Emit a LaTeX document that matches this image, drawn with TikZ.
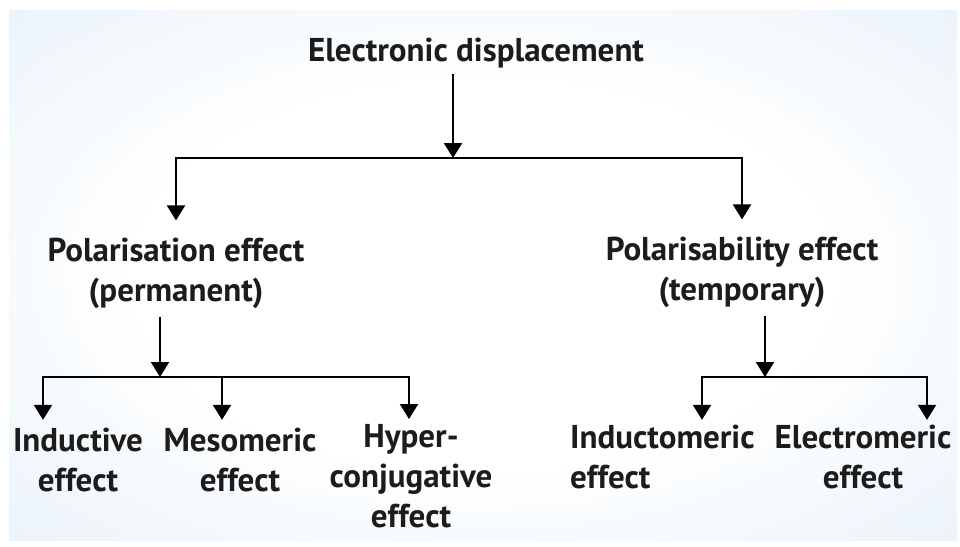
\documentclass[tikz,border=0pt]{standalone}
\usepackage{fontspec}
\setmainfont{PT Sans}
\usepackage{tikz}
\usetikzlibrary{arrows.meta, positioning}
\definecolor{bgBlue}{RGB}{205,227,243}
\definecolor{txtDark}{RGB}{28,28,28}
\pgfdeclareradialshading{bgGlow}{\pgfpoint{0bp}{0bp}}{color(0bp)=(white); color(18bp)=(white); color(62bp)=(bgBlue)}
\tikzstyle{effLabel} = [font=\bfseries\fontsize{33}{40}\selectfont, text=txtDark, align=center, inner sep=4pt]
\tikzstyle{effArrow} = [-{Triangle[width=18pt,length=15pt]}, line width=2.2pt]

\begin{document}
\begin{tikzpicture}[x=1pt, y=-1pt]
        % Background
        \useasboundingbox (0,0) rectangle (960,546);
        \fill [white] (0,0) rectangle (960,546);
        \shade [shading=bgGlow] (9,10) rectangle (957,540);

        % Nodes
        \node [effLabel] (elec) at (476,53) {Electronic displacement};

        \node [effLabel] (pol) at (176,273) {Polarisation effect\\(permanent)};
        \node [effLabel] (polz) at (742,272) {Polarisability effect\\(temporary)};

        \node [effLabel] (ind) at (78,460) {Inductive\\effect};
        \node [effLabel] (meso) at (240,460) {Mesomeric\\effect};
        \node [effLabel] (hyper) at (411,476) {Hyper-\\conjugative\\effect};

        \node [effLabel, align=left, anchor=west] (indm) at (566,457) {Inductomeric\\effect};
        \node [effLabel] (elm) at (863,457) {Electromeric\\effect};

        % Junctions
        \coordinate (j1) at (453,158);
        \coordinate (j2) at (160,377);
        \coordinate (j3) at (765,377);
        \coordinate (k1) at (43,377);
        \coordinate (k2) at (222,377);
        \coordinate (k3) at (409,377);
        \coordinate (m1) at (702,377);
        \coordinate (m2) at (927,377);

        % Lines
        \draw [effArrow, shorten <=2pt] (elec.south -| j1) -- (j1);
        \draw [effArrow, shorten >=13pt] (j1) -| (pol.north);
        \draw [effArrow, shorten >=13pt] (j1) -| (polz.north);

        \draw [effArrow, shorten <=4pt] (pol.south -| j2) -- (j2);
        \draw [effArrow, shorten >=4pt] (j2) -| (k1 |- ind.north);
        \draw [effArrow, shorten >=4pt] (k2) -- (k2 |- meso.north);
        \draw [effArrow, shorten >=1pt] (j2) -| (k3 |- hyper.north);

        \draw [effArrow, shorten <=4pt] (polz.south -| j3) -- (j3);
        \draw [effArrow, shorten >=1pt] (j3) -| (m1 |- indm.north);
        \draw [effArrow, shorten >=1pt] (j3) -| (m2 |- elm.north);
\end{tikzpicture}
\end{document}
